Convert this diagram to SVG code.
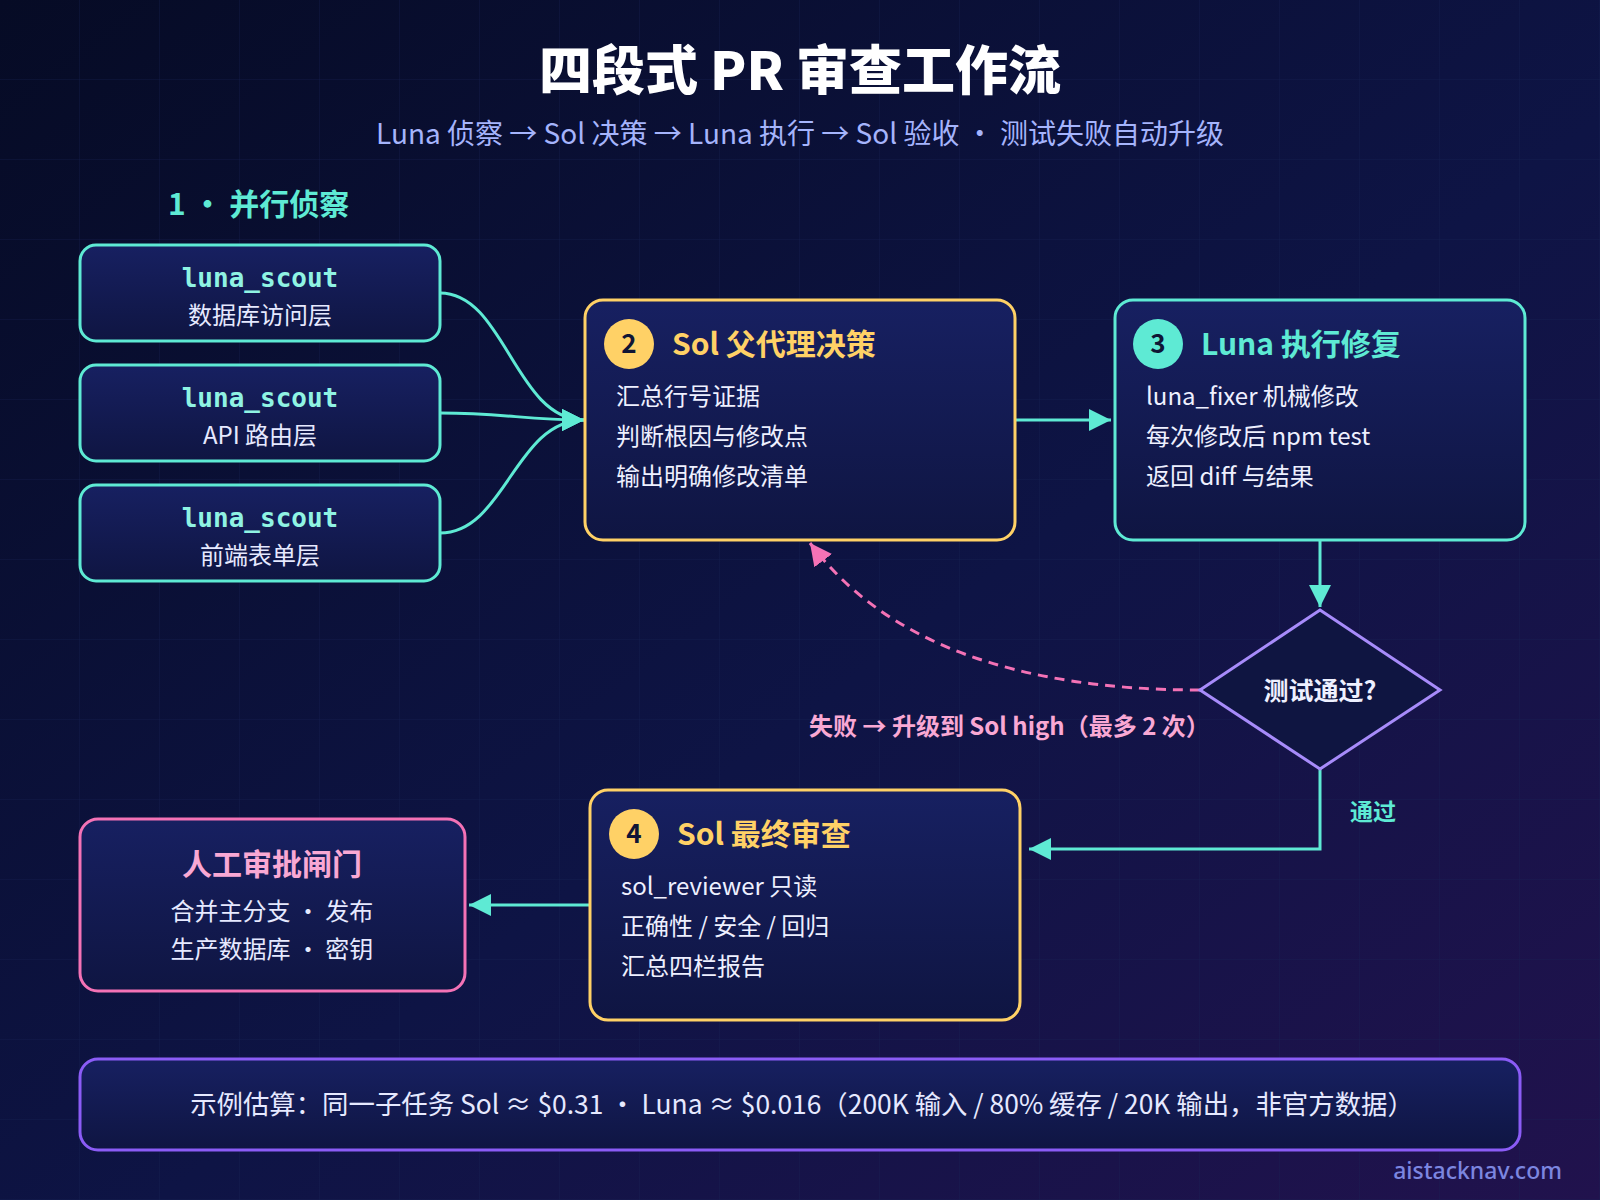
<svg xmlns="http://www.w3.org/2000/svg" width="1600" height="1200" viewBox="0 0 1600 1200">
<defs>
<linearGradient id="bg" x1="0" y1="0" x2="1" y2="1">
<stop offset="0" stop-color="#060b25"/>
<stop offset="0.55" stop-color="#0e1445"/>
<stop offset="1" stop-color="#21124d"/>
</linearGradient>
<linearGradient id="boxfill" x1="0" y1="0" x2="0" y2="1">
<stop offset="0" stop-color="#172061"/>
<stop offset="1" stop-color="#0f1542"/>
</linearGradient>
<pattern id="grid" width="80" height="80" patternUnits="userSpaceOnUse">
<path d="M80 0 V80 M0 80 H80" fill="none" stroke="#1a2458" stroke-opacity="0.55" stroke-width="1"/>
</pattern>
<marker id="arT" markerUnits="userSpaceOnUse" markerWidth="22" markerHeight="22" refX="22" refY="11" orient="auto">
<path d="M0,0 L22,11 L0,22 Z" fill="#5eead4"/>
</marker>
<marker id="arP" markerUnits="userSpaceOnUse" markerWidth="22" markerHeight="22" refX="22" refY="11" orient="auto">
<path d="M0,0 L22,11 L0,22 Z" fill="#f472b6"/>
</marker>
<style>
.cjk{font-family:"Noto Sans CJK SC","Noto Sans",sans-serif}
.box{fill:url(#boxfill);stroke-width:3}
.teal{stroke:#5eead4}
.gold{stroke:#ffd166}
.pink{stroke:#f472b6}
.purple{stroke:#8b5cf6}
.mono{font-family:"DejaVu Sans Mono","Liberation Mono",monospace;font-weight:700;font-size:26px;fill:#8ff3e3}
.sub{font-size:24px;fill:#e6e9ff}
.body{font-size:24px;fill:#eef0ff}
.head{font-size:30px;font-weight:700}
.num{font-size:26px;font-weight:700;fill:#0f1535}
.conn{fill:none;stroke-width:3}
</style>
</defs>
<rect width="1600" height="1200" fill="url(#bg)"/>
<rect width="1600" height="1200" fill="url(#grid)"/>

<g id="title" class="cjk">
<text x="800" y="90" text-anchor="middle" font-size="53" font-weight="900" fill="#ffffff">四段式 PR 审查工作流</text>
<text x="800" y="144" text-anchor="middle" font-size="28" fill="#a5b4fc">Luna 侦察 → Sol 决策 → Luna 执行 → Sol 验收 · 测试失败自动升级</text>
<text x="168" y="215" font-size="30" font-weight="700" fill="#5eead4">1 · 并行侦察</text>
</g>

<g id="connectors">
<path class="conn teal" d="M440,293 C505,293 515,420 584,420" marker-end="url(#arT)"/>
<path class="conn teal" d="M440,413 C505,413 525,420 584,420" marker-end="url(#arT)"/>
<path class="conn teal" d="M440,533 C505,533 515,420 584,420" marker-end="url(#arT)"/>
<path class="conn teal" d="M1015,420 H1111" marker-end="url(#arT)"/>
<path class="conn teal" d="M1320,541 V607" marker-end="url(#arT)"/>
<path class="conn teal" d="M1320,769 V849 H1029" marker-end="url(#arT)"/>
<path class="conn teal" d="M590,905 H469" marker-end="url(#arT)"/>
<path class="conn pink" stroke-dasharray="10 7" d="M1200,690 Q920,690 810,543" marker-end="url(#arP)"/>
<text class="cjk" x="809" y="735" font-size="24" font-weight="700" fill="#f9a8d4">失败 → 升级到 Sol high（最多 2 次）</text>
<text class="cjk" x="1350" y="820" font-size="23" font-weight="700" fill="#5eead4">通过</text>
</g>

<g id="scout1" class="cjk">
<rect class="box teal" x="80" y="245" width="360" height="96" rx="16"/>
<text class="mono" x="260" y="287" text-anchor="middle">luna_scout</text>
<text class="sub" x="260" y="324" text-anchor="middle">数据库访问层</text>
</g>
<g id="scout2" class="cjk">
<rect class="box teal" x="80" y="365" width="360" height="96" rx="16"/>
<text class="mono" x="260" y="407" text-anchor="middle">luna_scout</text>
<text class="sub" x="260" y="444" text-anchor="middle">API 路由层</text>
</g>
<g id="scout3" class="cjk">
<rect class="box teal" x="80" y="485" width="360" height="96" rx="16"/>
<text class="mono" x="260" y="527" text-anchor="middle">luna_scout</text>
<text class="sub" x="260" y="564" text-anchor="middle">前端表单层</text>
</g>

<g id="decide" class="cjk">
<rect class="box gold" x="585" y="300" width="430" height="240" rx="18"/>
<circle cx="629" cy="344" r="25" fill="#ffd166"/>
<text class="num" x="629" y="353" text-anchor="middle">2</text>
<text class="head" x="672" y="355" fill="#ffd166">Sol 父代理决策</text>
<text class="body" x="616" y="405">汇总行号证据</text>
<text class="body" x="616" y="445">判断根因与修改点</text>
<text class="body" x="616" y="485">输出明确修改清单</text>
</g>

<g id="execute" class="cjk">
<rect class="box teal" x="1115" y="300" width="410" height="240" rx="18"/>
<circle cx="1158" cy="344" r="25" fill="#5eead4"/>
<text class="num" x="1158" y="353" text-anchor="middle">3</text>
<text class="head" x="1201" y="355" fill="#5eead4">Luna 执行修复</text>
<text class="body" x="1146" y="405">luna_fixer 机械修改</text>
<text class="body" x="1146" y="445">每次修改后 npm test</text>
<text class="body" x="1146" y="485">返回 diff 与结果</text>
</g>

<g id="testpass" class="cjk">
<path d="M1320,610 L1440,690 L1320,769 L1200,690 Z" fill="#0f1541" stroke="#a78bfa" stroke-width="3"/>
<text x="1320" y="700" text-anchor="middle" font-size="25" font-weight="700" fill="#eef0ff">测试通过?</text>
</g>

<g id="review" class="cjk">
<rect class="box gold" x="590" y="790" width="430" height="230" rx="18"/>
<circle cx="634" cy="834" r="25" fill="#ffd166"/>
<text class="num" x="634" y="843" text-anchor="middle">4</text>
<text class="head" x="677" y="845" fill="#ffd166">Sol 最终审查</text>
<text class="body" x="621" y="895">sol_reviewer 只读</text>
<text class="body" x="621" y="935">正确性 / 安全 / 回归</text>
<text class="body" x="621" y="975">汇总四栏报告</text>
</g>

<g id="gate" class="cjk">
<rect class="box pink" x="80" y="819" width="385" height="172" rx="18"/>
<text x="272" y="875" text-anchor="middle" font-size="30" font-weight="700" fill="#f9a8d4">人工审批闸门</text>
<text class="sub" x="272" y="920" text-anchor="middle" fill="#fde7f3">合并主分支 · 发布</text>
<text class="sub" x="272" y="958" text-anchor="middle" fill="#fde7f3">生产数据库 · 密钥</text>
</g>

<g id="footer" class="cjk">
<rect class="box purple" x="80" y="1059" width="1440" height="91" rx="18"/>
<text x="802" y="1114" text-anchor="middle" font-size="26.4" fill="#e6e9ff">示例估算：同一子任务 Sol ≈ $0.31 · Luna ≈ $0.016（200K 输入 / 80% 缓存 / 20K 输出，非官方数据）</text>
</g>

<text x="1562" y="1179" text-anchor="end" font-family="'Noto Sans','DejaVu Sans',sans-serif" font-size="23" font-weight="500" fill="#7c86e0">aistacknav.com</text>
</svg>
